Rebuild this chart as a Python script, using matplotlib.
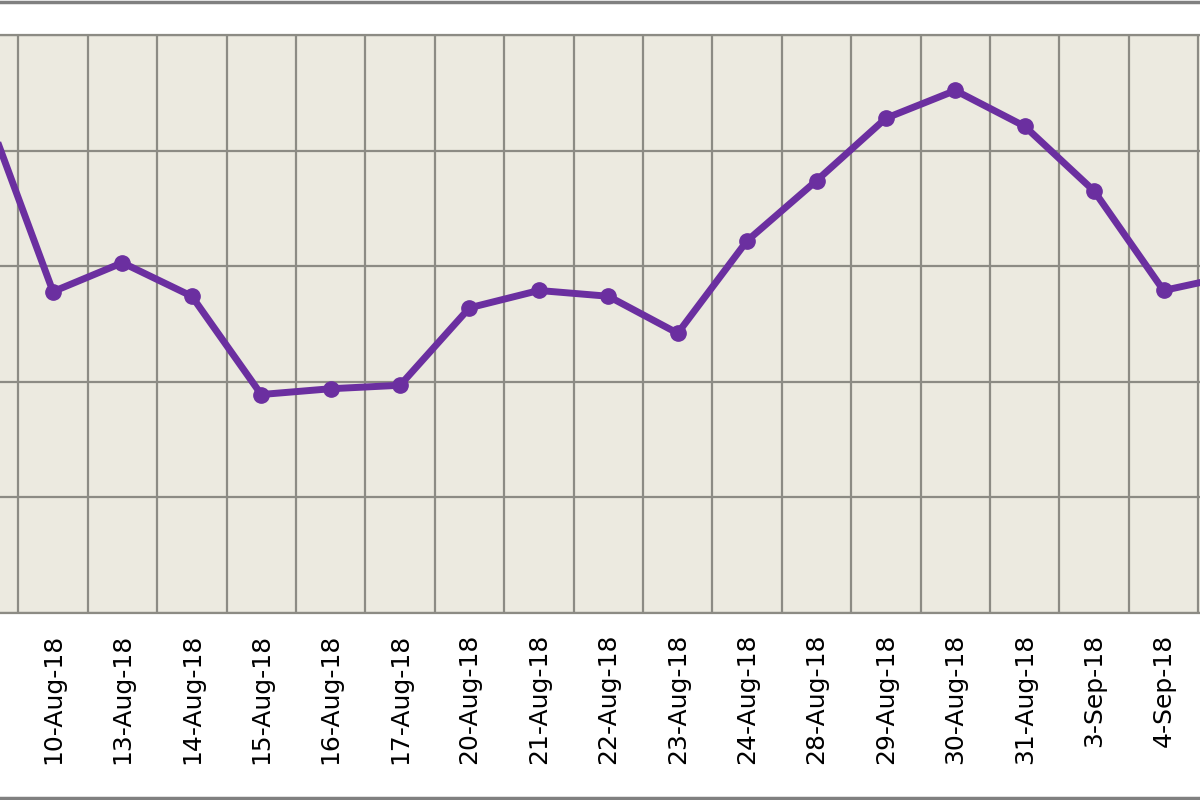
import matplotlib
matplotlib.use("Agg")
import matplotlib.pyplot as plt
from matplotlib.lines import Line2D
import numpy as np

# ── Data (y in gridline units, axis labels are cropped) ──
dates = ["9-Aug-18", "10-Aug-18", "13-Aug-18", "14-Aug-18", "15-Aug-18",
         "16-Aug-18", "17-Aug-18", "20-Aug-18", "21-Aug-18", "22-Aug-18",
         "23-Aug-18", "24-Aug-18", "28-Aug-18", "29-Aug-18", "30-Aug-18",
         "31-Aug-18", "3-Sep-18", "4-Sep-18", "5-Sep-18"]
values = [4.40, 2.78, 3.03, 2.74, 1.89, 1.94, 1.97, 2.64, 2.79, 2.74,
          2.42, 3.22, 3.74, 4.28, 4.52, 4.21, 3.65, 2.79, 2.92]
y_ticks = [0, 1, 2, 3, 4, 5]

BG = "#ECEAE0"
GRID = "#8C8B84"
PURPLE = "#6B2FA0"
LABEL_SIZE = 18

fig = plt.figure(figsize=(12, 8), dpi=100)
fig.patch.set_facecolor("white")

# plot area spans the full width (the reference is cropped left and right)
ax = fig.add_axes([0, 1 - 613 / 800, 1, (613 - 35) / 800])
ax.set_facecolor(BG)

x = np.arange(len(dates))
ax.plot(x, values, color=PURPLE, lw=5, marker="o", ms=11,
        markeredgecolor=PURPLE, zorder=3)

ax.set_xticks(x)
ax.set_xticklabels(dates, rotation=90, fontsize=LABEL_SIZE, family="DejaVu Sans")
ax.set_xticks(x + 0.5, minor=True)
ax.tick_params(axis="x", which="both", length=0, pad=15)
ax.set_yticks(y_ticks)
ax.tick_params(axis="y", length=0, labelleft=False)

# limits after the ticks, otherwise set_xticks widens the view
ax.set_xlim(0.236, 17.525)
ax.set_ylim(y_ticks[0], y_ticks[-1])

# first label sits just off the left edge; only its tail shows in the crop
ax.annotate(dates[0], xy=(x[0], 0), xycoords=("data", "axes fraction"),
            xytext=(0, -15), textcoords="offset points", rotation=90,
            ha="center", va="top", fontsize=LABEL_SIZE, family="DejaVu Sans",
            annotation_clip=False)

ax.grid(True, axis="y", which="major", color=GRID, lw=1.6, zorder=1)
ax.grid(True, axis="x", which="minor", color=GRID, lw=1.6, zorder=1)
ax.grid(False, axis="x", which="major")
ax.set_axisbelow(True)

for side in ("left", "right"):
    ax.spines[side].set_visible(False)
for side in ("top", "bottom"):
    ax.spines[side].set_color(GRID)
    ax.spines[side].set_linewidth(1.6)

# outer chart border (top and bottom edges visible in the crop)
fig.add_artist(Line2D([0, 1], [0.998, 0.998], color="#808080", lw=2.5,
                      transform=fig.transFigure))
fig.add_artist(Line2D([0, 1], [0.003, 0.003], color="#808080", lw=2.5,
                      transform=fig.transFigure))

fig.savefig("out.png", dpi=100, facecolor=fig.get_facecolor())
plt.close(fig)
